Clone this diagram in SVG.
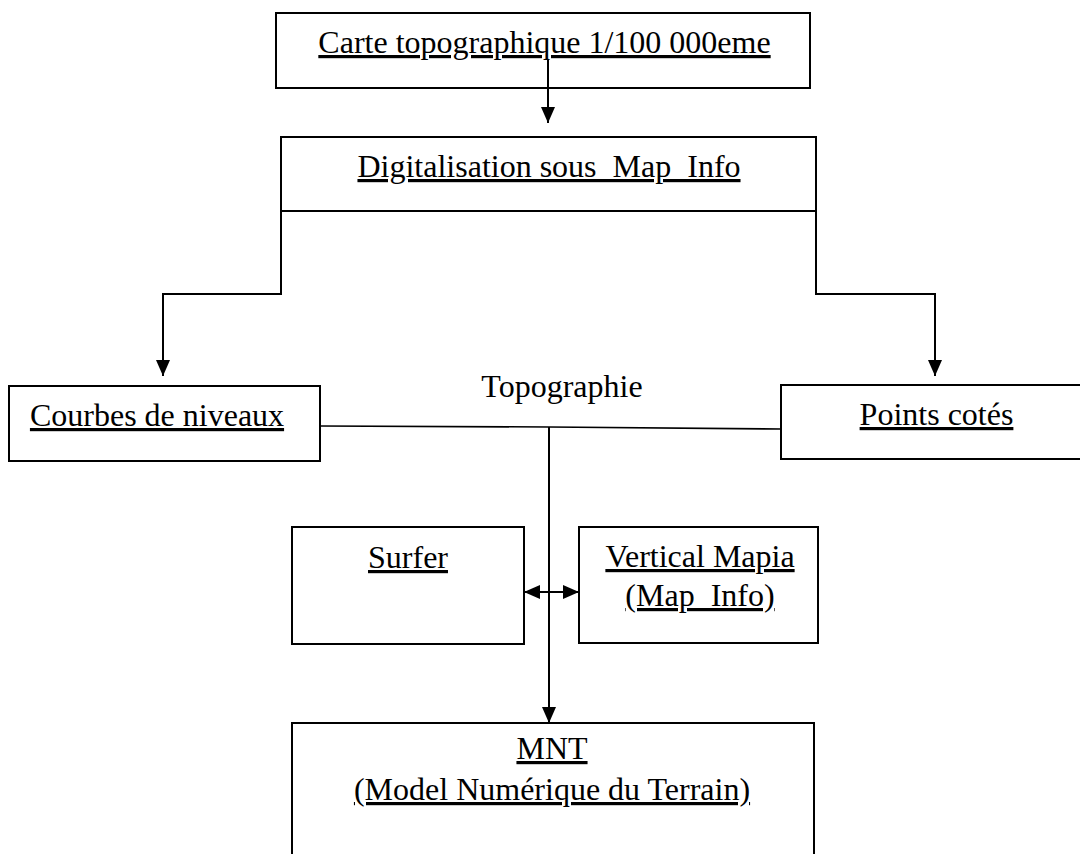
<svg xmlns="http://www.w3.org/2000/svg" width="1080" height="854" viewBox="0 0 1080 854">
  <style>
    .box { fill: #ffffff; stroke: #000000; stroke-width: 2; }
    .wire { fill: none; stroke: #000000; stroke-width: 2; }
    .thin { fill: none; stroke: #000000; stroke-width: 1.6; }
    text { font-family: "Liberation Serif", "Times New Roman", serif; font-size: 32px; fill: #000000; text-anchor: middle; }
    .ul { text-decoration: underline; }
  </style>
  <defs>
    <marker id="head" viewBox="0 0 16 14" refX="16" refY="7" markerWidth="16" markerHeight="14" markerUnits="userSpaceOnUse" orient="auto-start-reverse">
      <path d="M0,0 L16,7 L0,14 z" fill="#000000"/>
    </marker>
  </defs>

  <rect width="1080" height="854" fill="#ffffff"/>

  <!-- nodes -->
  <g id="carte">
    <rect class="box" x="276" y="13" width="534" height="75"/>
    <text class="ul" x="544.5" y="53">Carte topographique 1/100 000eme</text>
  </g>
  <g id="digitalisation">
    <rect class="box" x="281" y="137" width="535" height="74"/>
    <text class="ul" x="549" y="177" xml:space="preserve">Digitalisation sous  Map_Info</text>
  </g>
  <g id="courbes">
    <rect class="box" x="9" y="386" width="311" height="75"/>
    <text class="ul" x="157" y="426">Courbes de niveaux</text>
  </g>
  <g id="points">
    <rect class="box" x="781" y="385" width="310" height="74"/>
    <text class="ul" x="936.5" y="425">Points cotés</text>
  </g>
  <g id="topographie">
    <text x="562" y="397">Topographie</text>
  </g>
  <g id="surfer">
    <rect class="box" x="292" y="527" width="232" height="117"/>
    <text class="ul" x="408" y="568">Surfer</text>
  </g>
  <g id="vertical-mapia">
    <rect class="box" x="579" y="527" width="239" height="116"/>
    <text class="ul" x="700" y="567">Vertical Mapia</text>
    <text class="ul" x="700" y="606">(Map_Info)</text>
  </g>
  <g id="mnt">
    <path class="wire" d="M292,860 L292,723 L814,723 L814,860"/>
    <text class="ul" x="552" y="759">MNT</text>
    <text class="ul" x="552" y="800">(Model Numérique du Terrain)</text>
  </g>

  <!-- connectors -->
  <g id="connectors">
    <path class="wire" d="M548,59 L548,123" marker-end="url(#head)"/>
    <path class="wire" d="M281,211 L281,294 L163,294 L163,376" marker-end="url(#head)"/>
    <path class="wire" d="M816,211 L816,294 L935,294 L935,376" marker-end="url(#head)"/>
    <path class="thin" d="M320,426 L549,427 L781,429"/>
    <path class="wire" d="M549,427 L549,723" marker-end="url(#head)"/>
    <path class="wire" d="M524,592 L579,592" marker-start="url(#head)" marker-end="url(#head)"/>
  </g>
</svg>
